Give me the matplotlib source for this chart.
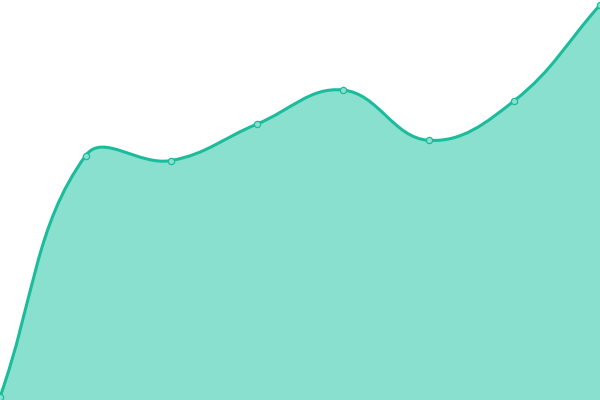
import numpy as np
import matplotlib
matplotlib.use('Agg')
import matplotlib.pyplot as plt
from matplotlib.path import Path
from matplotlib.patches import PathPatch

labels = ['1', '2', '3', '4', '5', '6', '7', '8']
values = [3, 244.5, 239.5, 276, 310, 259.7, 299.3, 395]

LINE = '#1abc9c'
FILL = '#8ae0cf'
W, H = 600, 400


def spline_controls(xs, ys, tension=0.4):
    # chart.js style control points (computed in pixel space)
    n = len(xs)
    pts = np.column_stack([xs, ys]).astype(float)
    prev_cp = pts.copy()
    next_cp = pts.copy()
    for i in range(n):
        p0 = pts[i - 1] if i > 0 else pts[i]
        p1 = pts[i]
        p2 = pts[i + 1] if i < n - 1 else pts[i]
        d01 = np.hypot(*(p1 - p0))
        d12 = np.hypot(*(p2 - p1))
        tot = d01 + d12
        s01 = d01 / tot if tot else 0
        s12 = d12 / tot if tot else 0
        fa = tension * s01
        fb = tension * s12
        prev_cp[i] = p1 - fa * (p2 - p0)
        next_cp[i] = p1 + fb * (p2 - p0)
    return pts, prev_cp, next_cp


x = np.arange(len(values)) * W / (len(values) - 1)
y = np.array(values, dtype=float)
pts, pc, nc = spline_controls(x, y)

verts = [tuple(pts[0])]
codes = [Path.MOVETO]
for i in range(len(pts) - 1):
    verts += [tuple(nc[i]), tuple(pc[i + 1]), tuple(pts[i + 1])]
    codes += [Path.CURVE4] * 3
line_path = Path(verts, codes)
fill_path = Path(verts + [(x[-1], 0), (x[0], 0), verts[0]],
                 codes + [Path.LINETO, Path.LINETO, Path.CLOSEPOLY])

fig = plt.figure(figsize=(6, 4), dpi=100)
ax = fig.add_axes([0, 0, 1, 1])
ax.add_patch(PathPatch(fill_path, facecolor=FILL, edgecolor='none'))
ax.add_patch(PathPatch(line_path, facecolor='none', edgecolor=LINE, lw=2.2,
                       capstyle='round', joinstyle='round'))
ax.plot(x, y, ls='none', marker='o', ms=4.5, mfc=FILL, mec=LINE, mew=0.9,
        clip_on=True)
ax.set_xlim(0, W)
ax.set_ylim(0, H)
ax.axis('off')
fig.savefig('out.png', dpi=100)
